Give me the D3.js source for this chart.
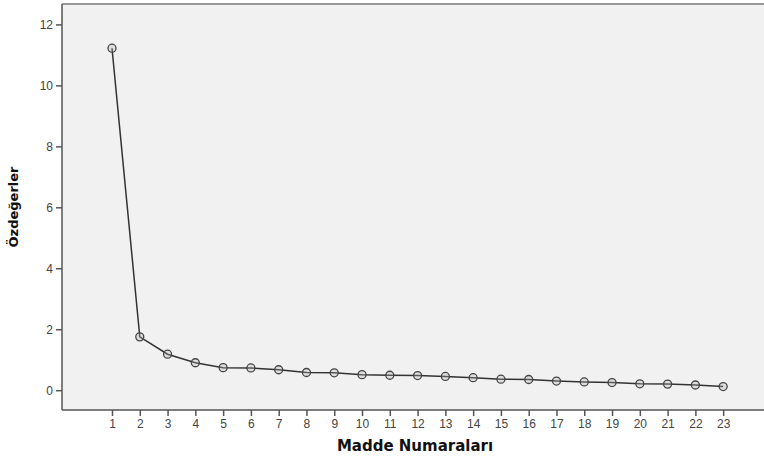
<!DOCTYPE html>
<html>
<head>
<meta charset="utf-8">
<script src="https://cdn.jsdelivr.net/npm/d3@7"></script>
<style>
  body { margin: 0; background: #fff; }
  text { font-family: Arial, "Liberation Sans", sans-serif; }
</style>
</head>
<body>
<svg id="chart" width="764" height="459"></svg>
<script>
// scree plot values
const items = d3.range(1, 24);
const eigenvalues = [11.22, 1.75, 1.18, 0.90, 0.74, 0.73, 0.67, 0.58, 0.57, 0.51,
  0.49, 0.48, 0.45, 0.41, 0.36, 0.35, 0.30, 0.27, 0.25, 0.21, 0.20, 0.17, 0.12];
const yTicks = [0, 2, 4, 6, 8, 10, 12];

const svg = d3.select('#chart');
const plot = { left: 62, top: 4, right: 764, bottom: 410 };

const x = d3.scaleLinear().domain([-0.8, 24.47]).range([plot.left, plot.right]);
const y = d3.scaleLinear().domain([-0.65, 12.67]).range([plot.bottom, plot.top]);

svg.append('rect')
  .attr('x', plot.left).attr('y', plot.top)
  .attr('width', plot.right - plot.left).attr('height', plot.bottom - plot.top)
  .attr('fill', '#f1f1f1');

// frame lines
svg.append('line')
  .attr('x1', plot.left).attr('x2', plot.right)
  .attr('y1', plot.top).attr('y2', plot.top)
  .attr('stroke', '#999').attr('stroke-width', 2);

const yAxis = svg.append('g')
  .attr('transform', `translate(${plot.left},0)`)
  .call(d3.axisLeft(y).tickValues(yTicks).tickSize(6).tickPadding(3));

const xAxis = svg.append('g')
  .attr('transform', `translate(0,${plot.bottom})`)
  .call(d3.axisBottom(x).tickValues(items).tickSize(6).tickPadding(3));

[yAxis, xAxis].forEach(g => {
  g.select('.domain').attr('stroke', '#555').attr('stroke-width', 1.5);
  g.selectAll('.tick line').attr('stroke', '#555').attr('stroke-width', 1.5);
  g.selectAll('.tick text').attr('fill', '#444').style('font-size', '12px');
});
yAxis.select('.domain').attr('d', `M0,${plot.top}V${plot.bottom}`);
xAxis.select('.domain').attr('d', `M${plot.left},0H${plot.right}`);

const line = d3.line()
  .x((d, i) => x(items[i]))
  .y(d => y(d));

svg.append('path')
  .datum(eigenvalues)
  .attr('fill', 'none')
  .attr('stroke', '#333')
  .attr('stroke-width', 1.5)
  .attr('d', line);

svg.selectAll('circle.pt')
  .data(eigenvalues)
  .join('circle')
  .attr('class', 'pt')
  .attr('cx', (d, i) => x(items[i]))
  .attr('cy', d => y(d))
  .attr('r', 4)
  .attr('fill', 'rgba(180,180,180,0.3)')
  .attr('stroke', '#444')
  .attr('stroke-width', 1.3);

svg.append('text')
  .attr('x', 415).attr('y', 451)
  .attr('text-anchor', 'middle')
  .style('font-family', '"DejaVu Sans", sans-serif')
  .style('font-size', '15px')
  .style('font-weight', 'bold')
  .attr('fill', '#111')
  .text('Madde Numaraları');

svg.append('text')
  .attr('transform', 'translate(18,207) rotate(-90)')
  .attr('text-anchor', 'middle')
  .style('font-family', '"DejaVu Sans", sans-serif')
  .style('font-size', '13px')
  .style('font-weight', 'bold')
  .attr('fill', '#111')
  .text('Özdeğerler');
</script>
</body>
</html>
